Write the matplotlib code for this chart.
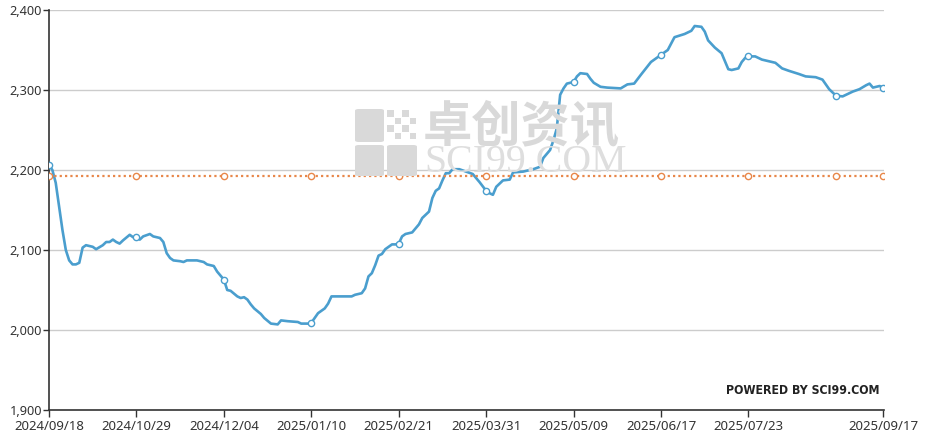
import matplotlib
matplotlib.use("Agg")
import matplotlib.pyplot as plt
from matplotlib.patches import FancyBboxPatch, Rectangle

# trading-day index and price
idx = [0, 1, 2, 3, 4, 5, 6, 7, 8, 9, 10, 11, 13, 14, 16, 17, 18, 19, 20, 21, 22, 24, 25, 26,
       27, 28, 30, 31, 33, 34, 35, 36, 37, 39, 40, 41, 44, 46, 47, 49, 50, 52, 53, 54, 56, 57,
       58, 59, 60, 61, 63, 64, 66, 68, 69, 71, 74, 75, 77, 78, 80, 82, 83, 84, 86, 88, 90, 91,
       93, 94, 95, 96, 97, 98, 99, 100, 102, 103, 104, 105, 106, 108, 110, 111, 113, 114, 115,
       116, 117, 118, 119, 120, 122, 124, 126, 127, 128, 130, 131, 132, 133, 135, 137, 138,
       141, 144, 146, 147, 149, 150, 151, 152, 153, 154, 155, 156, 157, 158, 160, 161, 162,
       164, 166, 170, 172, 174, 176, 179, 180, 182, 184, 185, 186, 189, 191, 192, 194, 195,
       196, 198, 200, 201, 202, 203, 204, 205, 206, 207, 208, 210, 212, 214, 216, 218, 220,
       223, 225, 228, 230, 232, 233, 234, 236, 239, 241, 243, 244, 245, 247, 248]
price = [2206, 2200, 2184, 2154, 2125, 2100, 2087, 2082, 2082, 2084, 2103, 2106, 2104, 2101,
         2106, 2110, 2110, 2113, 2110, 2108, 2112, 2119, 2116, 2116, 2113, 2117, 2120, 2117,
         2115, 2110, 2096, 2090, 2087, 2086, 2085, 2087, 2087, 2085, 2082, 2080, 2073, 2063,
         2050, 2049, 2042, 2040, 2041, 2038, 2032, 2027, 2020, 2015, 2008, 2007, 2012, 2011,
         2010, 2008, 2008, 2009, 2021, 2027, 2033, 2042, 2042, 2042, 2042, 2044, 2046, 2052,
         2067, 2071, 2081, 2093, 2095, 2101, 2107, 2107, 2108, 2117, 2120, 2122, 2132, 2140,
         2148, 2165, 2174, 2177, 2187, 2196, 2196, 2201, 2201, 2198, 2195, 2190, 2185, 2174,
         2171, 2169, 2179, 2187, 2188, 2197, 2198, 2201, 2204, 2215, 2225, 2237, 2252, 2294,
         2302, 2308, 2309, 2310, 2317, 2321, 2320, 2314, 2309, 2304, 2303, 2302, 2307, 2308,
         2319, 2335, 2338, 2344, 2350, 2358, 2366, 2370, 2374, 2380, 2379, 2373, 2362, 2353,
         2346, 2336, 2326, 2325, 2326, 2327, 2335, 2340, 2342, 2342, 2338, 2336, 2334, 2327,
         2324, 2320, 2317, 2316, 2313, 2301, 2297, 2293, 2292, 2298, 2301, 2306, 2308,
         2303, 2305, 2303]
avg_value = 2192
marker_idx = [0, 26, 52, 78, 104, 130, 156, 182, 208, 234, 248]
tick_idx = [0, 26, 52, 78, 104, 130, 156, 182, 208, 248]
tick_labels = ["2024/09/18", "2024/10/29", "2024/12/04", "2025/01/10", "2025/02/21",
               "2025/03/31", "2025/05/09", "2025/06/17", "2025/07/23", "2025/09/17"]
y_ticks = [1900, 2000, 2100, 2200, 2300, 2400]

BLUE = "#4a9ece"
ORANGE = "#e8874a"

fig = plt.figure(figsize=(9.27, 4.32), dpi=100)
ax = fig.add_axes([49 / 927, 22 / 432, 835 / 927, 400 / 432])

# watermark
wm = "#d9d9d9"
def fx(px):
    return px / 927
def fy(py):
    return 1 - py / 432
for (x0, y0, x1, y1) in [(355, 109, 384, 142), (355, 145, 384, 176), (387, 145, 417, 176)]:
    fig.patches.append(FancyBboxPatch((fx(x0), fy(y1)), fx(x1 - x0), (y1 - y0) / 432,
                                      boxstyle="round,pad=0,rounding_size=0.004",
                                      transform=fig.transFigure, facecolor=wm,
                                      edgecolor="none", zorder=0))
cell = 7.5
for r in range(4):
    for c in range(4):
        if (r + c) % 2 == 0 and not (r == 0 and c == 3):
            fig.patches.append(Rectangle((fx(387 + c * cell), fy(109 + (r + 1) * cell)),
                                         fx(cell - 1), (cell - 1) / 432,
                                         transform=fig.transFigure, facecolor=wm,
                                         edgecolor="none", zorder=0))
fig.text(fx(423), fy(142), "卓创资讯", family=["Noto Sans CJK SC", "DejaVu Sans"],
         fontsize=35.5, fontweight="bold", color=wm, ha="left", va="baseline", zorder=0)
fig.text(fx(424), fy(172), "SCI99.COM", family=["Liberation Serif", "DejaVu Serif"],
         fontsize=28.7, color="#dedede", ha="left", va="baseline", zorder=0)

ax.patch.set_alpha(0)
ax.plot(idx, price, color=BLUE, lw=1.9, zorder=3, solid_joinstyle="round")
mk_y = [price[idx.index(i)] for i in marker_idx]
ax.plot(marker_idx, mk_y, ls="none", marker="o", ms=4.5, mfc="white", mec=BLUE, mew=1,
        zorder=4)
ax.plot([idx[0], idx[-1]], [avg_value, avg_value], color=ORANGE, lw=1.6,
        ls=(0, (1, 1.4)), zorder=3)
ax.plot(marker_idx, [avg_value] * len(marker_idx), ls="none", marker="o", ms=4.5,
        mfc="white", mec=ORANGE, mew=1, zorder=4)

ax.set_xlim(0, 248.3)
ax.set_ylim(1900, 2400)
ax.set_yticks(y_ticks)
ax.set_yticklabels([f"{v:,}" for v in y_ticks])
ax.set_xticks(tick_idx)
ax.set_xticklabels(tick_labels)
ax.grid(axis="y", color="#cccccc", lw=1)
ax.set_axisbelow(True)
for s in ["top", "right"]:
    ax.spines[s].set_visible(False)
for s in ["left", "bottom"]:
    ax.spines[s].set_color("#333333")
    ax.spines[s].set_linewidth(1.2)
ax.tick_params(axis="y", length=4, width=1, color="#333333", pad=1, labelsize=9.2,
               labelcolor="#333333")
ax.tick_params(axis="x", length=5, width=1, color="#333333", pad=2, labelsize=9.5,
               labelcolor="#333333")
for lab in ax.get_yticklabels() + ax.get_xticklabels():
    lab.set_family(["Noto Sans", "DejaVu Sans"])

fig.text(fx(803), fy(391), "POWERED BY SCI99.COM",
         family=["DejaVu Sans"], fontstretch="condensed", fontweight="bold",
         fontsize=8.8, color="#222222", ha="center", va="center")

fig.savefig("out.png", dpi=100)
